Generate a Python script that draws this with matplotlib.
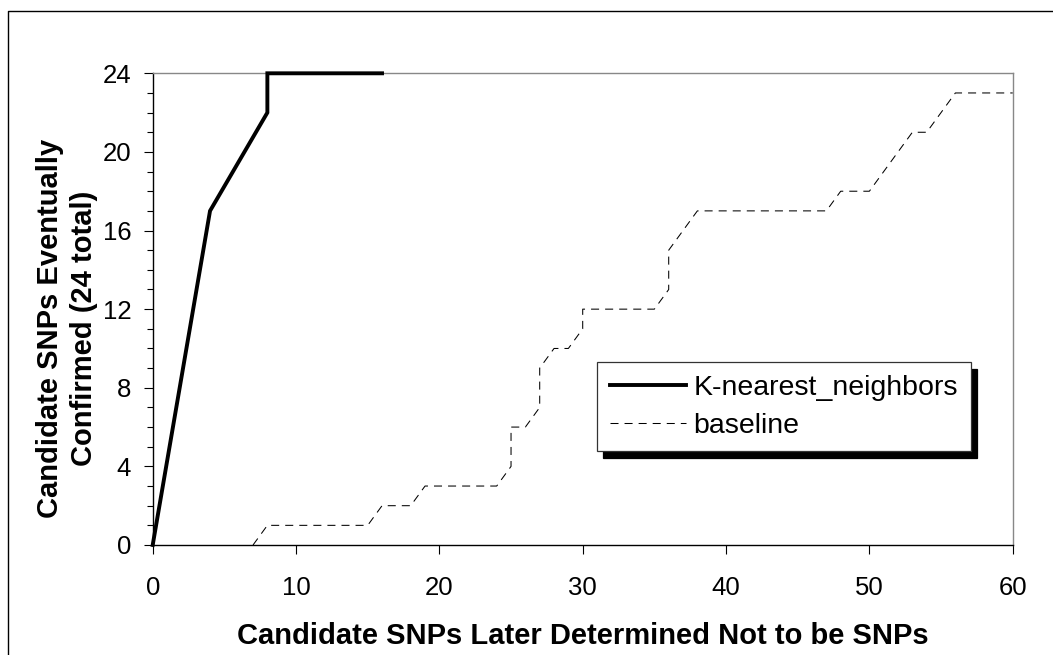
import matplotlib
matplotlib.use("Agg")
import matplotlib.pyplot as plt
from matplotlib.lines import Line2D
from matplotlib.ticker import MultipleLocator

# data
knn_x = [0, 4, 8, 8, 16]
knn_y = [0, 17, 22, 24, 24]

base_x = [7, 8, 15, 16, 18, 19, 24, 25, 25, 26, 27, 27, 28, 29, 30, 30,
          35, 36, 36, 38, 47, 48, 50, 53, 54, 56, 60]
base_y = [0, 1, 1, 2, 2, 3, 3, 4, 6, 6, 7, 9, 10, 10, 11, 12,
          12, 13, 15, 17, 17, 18, 18, 21, 21, 23, 23]

x_ticks = [0, 10, 20, 30, 40, 50, 60]
y_ticks = [0, 4, 8, 12, 16, 20, 24]

plt.rcParams['font.family'] = ['Liberation Sans', 'DejaVu Sans']

W, H = 1053, 655
fig = plt.figure(figsize=(W / 100, H / 100), dpi=100)
ax = fig.add_axes([152.7 / W, 1 - 545 / H, 860 / W, 471.7 / H])

ax.plot(knn_x, knn_y, color='black', lw=2.8, solid_joinstyle='miter',
        clip_on=False, zorder=4, label='K-nearest_neighbors')
ax.plot(base_x, base_y, color='black', lw=0.75, linestyle=(0, (7.7, 5.8)),
        clip_on=False, zorder=3, label='baseline')

ax.set_xlim(0, 60)
ax.set_ylim(0, 24)
ax.set_xticks(x_ticks)
ax.set_yticks(y_ticks)
ax.yaxis.set_minor_locator(MultipleLocator(1))

ax.tick_params(axis='x', which='major', direction='out', length=6.5, width=0.8,
               pad=16, labelsize=18.5, colors='black')
ax.tick_params(axis='y', which='major', direction='out', length=6.5, width=0.8,
               pad=9, labelsize=18.5)
ax.tick_params(axis='y', which='minor', direction='out', length=4, width=0.8)

for side in ['top', 'right']:
    ax.spines[side].set_color('#888888')
    ax.spines[side].set_linewidth(1.0)
for side in ['left', 'bottom']:
    ax.spines[side].set_color('black')
    ax.spines[side].set_linewidth(1.0)

# axis titles
fig.text(582.7 / W, 1 - 644 / H, 'Candidate SNPs Later Determined Not to be SNPs',
         ha='center', va='baseline', fontsize=21, fontweight='bold')
fig.text(67 / W, 1 - 328 / H, 'Candidate SNPs Eventually\nConfirmed (24 total)',
         ha='center', va='center', rotation=90, multialignment='center',
         fontsize=21, fontweight='bold', linespacing=1.25)

leg = ax.legend(loc='upper left', bbox_to_anchor=(0.5163, 0.3873),
                borderaxespad=0, fontsize=20.5, frameon=True, fancybox=False,
                handlelength=2.7, handletextpad=0.25, labelspacing=0.4,
                borderpad=0.45,
                shadow={'color': 'black', 'alpha': 1, 'ox': 4.5, 'oy': -4.5})
leg.get_frame().set_edgecolor('#333333')
leg.get_frame().set_linewidth(0.9)

# outer frame, running off the right and bottom edges
fig.add_artist(Line2D([8 / W, 8 / W, 1.01], [-0.01, 1 - 11 / H, 1 - 11 / H],
                      transform=fig.transFigure, color='black', lw=1.0))

fig.savefig('out.png', dpi=100)
